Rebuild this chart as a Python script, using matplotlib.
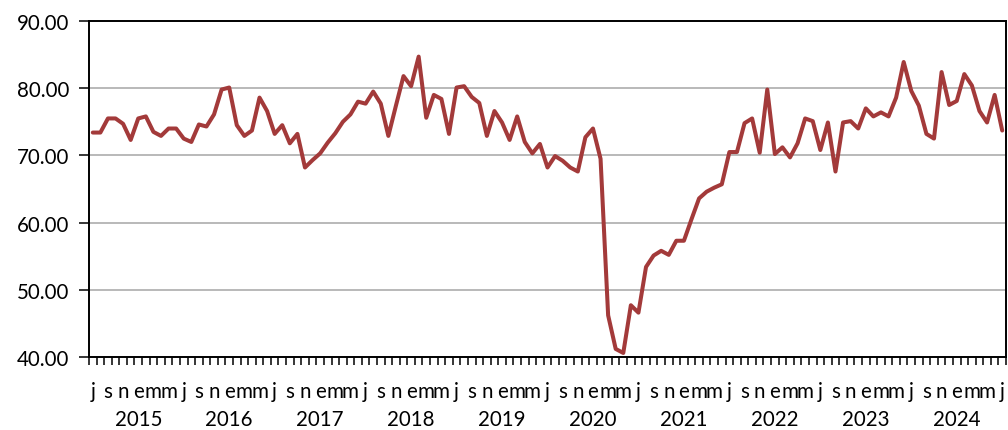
import matplotlib
matplotlib.use("Agg")
import matplotlib.pyplot as plt
import numpy as np

# monthly values, Jul 2014 - Jul 2024
values = [
    73.4, 73.4, 75.5, 75.5, 74.7, 72.3, 75.5, 75.8, 73.5, 72.9,
    74.0, 74.0, 72.5, 72.0, 74.6, 74.3, 76.1, 79.8, 80.1, 74.5,
    72.9, 73.7, 78.6, 76.6, 73.2, 74.5, 71.8, 73.2, 68.2, 69.3,
    70.3, 71.9, 73.3, 75.0, 76.1, 78.0, 77.7, 79.5, 77.7, 72.9,
    77.4, 81.8, 80.3, 84.7, 75.6, 79.0, 78.4, 73.2, 80.1, 80.3,
    78.7, 77.8, 72.9, 76.6, 74.9, 72.3, 75.8, 72.0, 70.3, 71.7,
    68.2, 69.9, 69.2, 68.2, 67.6, 72.7, 74.0, 69.5, 46.2, 41.2,
    40.6, 47.7, 46.6, 53.4, 55.1, 55.8, 55.2, 57.3, 57.3, 60.5,
    63.6, 64.6, 65.2, 65.7, 70.5, 70.5, 74.8, 75.5, 70.4, 79.8,
    70.2, 71.2, 69.7, 71.8, 75.5, 75.1, 70.8, 74.9, 67.6, 74.9,
    75.1, 74.0, 77.0, 75.8, 76.4, 75.8, 78.6, 83.9, 79.6, 77.4,
    73.2, 72.5, 82.4, 77.5, 78.1, 82.1, 80.4, 76.6, 74.9, 79.0,
    73.7,
]
month_initials = ["e", "f", "m", "a", "m", "j", "j", "a", "s", "o", "n", "d"]
first_year, first_month = 2014, 7

n = len(values)
x = np.arange(n)
months = [(first_month - 1 + i) % 12 for i in range(n)]

plt.rcParams['font.family'] = ['Lato', 'DejaVu Sans']

fig = plt.figure(figsize=(10.08, 4.31), dpi=100)
ax = fig.add_axes([89 / 1008, 1 - 358 / 431, 917 / 1008, 336 / 431])

ax.plot(x, values, color="#A33A3A", lw=2.9, solid_joinstyle="round",
        solid_capstyle="round")

ax.set_ylim(40, 90)
ax.set_xlim(-0.5, n - 0.5)
ax.set_yticks(np.arange(40, 91, 10))
ax.set_yticklabels([f"{v:.2f}" for v in range(40, 91, 10)], fontsize=14.8)
ax.yaxis.grid(True, color="#a6a6a6", lw=1.1)
ax.set_axisbelow(True)

# month letters every two months, year under january
lab_idx = x[::2]
ax.set_xticks(lab_idx)
ax.set_xticklabels([month_initials[months[i]] for i in lab_idx], fontsize=14.8)
ax.set_xticks(np.arange(-0.5, n, 1), minor=True)
ax.tick_params(axis="x", which="major", length=0, pad=17)
ax.tick_params(axis="x", which="minor", length=6, width=1.1, direction="out")
ax.tick_params(axis="y", length=7, width=1.1, pad=7)

for i in x:
    if months[i] == 0:
        yr = first_year + (first_month - 1 + i) // 12
        ax.text(i, -0.185, str(yr), transform=ax.get_xaxis_transform(),
                ha="center", va="center", fontsize=14.8)

for s in ax.spines.values():
    s.set_linewidth(1.4)
    s.set_color("black")

fig.savefig("out.png", dpi=100)
